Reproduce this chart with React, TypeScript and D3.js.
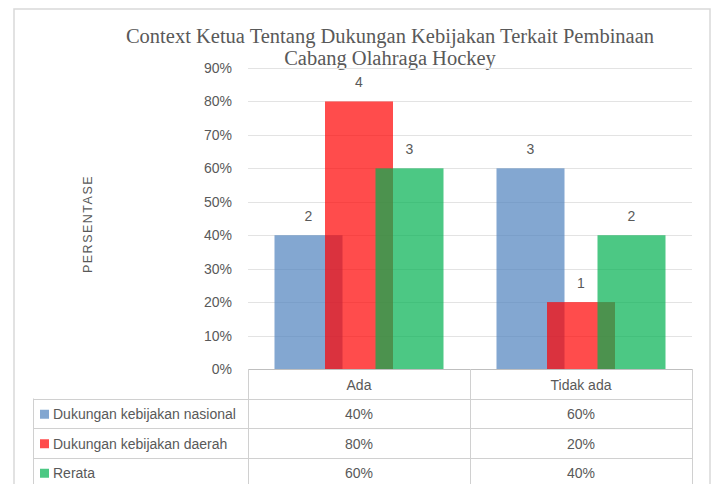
import React from "react";
import * as d3 from "d3";

const categories = ["Ada", "Tidak ada"];
const seriesNames = ["Dukungan kebijakan nasional", "Dukungan kebijakan daerah", "Rerata"];
const seriesColors = ["#4F81BD", "#FF0000", "#00B050"];
const valuesNasional = [0.4, 0.6];
const valuesDaerah = [0.8, 0.2];
const valuesRerata = [0.6, 0.4];
const countsNasional = [2, 3];
const countsDaerah = [4, 1];
const countsRerata = [3, 2];
const yTicks = [0, 0.1, 0.2, 0.3, 0.4, 0.5, 0.6, 0.7, 0.8, 0.9];
const titleLines = ["Context Ketua Tentang Dukungan Kebijakan Terkait Pembinaan", "Cabang Olahraga Hockey"];
const yTitle = "PERSENTASE";

const seriesValues = [valuesNasional, valuesDaerah, valuesRerata];
const seriesCounts = [countsNasional, countsDaerah, countsRerata];

export default function App() {
  const W = 713, H = 484;
  const left = 248, right = 692, top = 68, bottom = 369;
  const x = d3.scaleBand<string>().domain(categories).range([left, right]).padding(0);
  const y = d3.scaleLinear().domain([0, 0.9]).range([bottom, top]);
  const barW = 68;
  const step = 50.5;
  const font = "'Liberation Sans', Arial, sans-serif";
  const textColor = "#595959";
  const gridColor = "#E3E3E3";
  const tableColor = "#D0D0D0";
  const rowH = 29.5;
  const tableLeft = 33;
  const fmt = d3.format(".0%");

  return (
    <svg width={W} height={H} style={{ position: "absolute", left: 0, top: 0, background: "#fff" }}>
      <rect x={14} y={9} width={696} height={490} fill="#fff" stroke="#D9D9D9" strokeWidth={1.5} />
      {titleLines.map((t, i) => (
        <text key={i} x={390} y={43 + i * 22} textAnchor="middle" fontFamily="'Liberation Serif', 'DejaVu Serif', serif" fontSize={20.5} fill={textColor}>
          {t}
        </text>
      ))}
      {yTicks.map((t) => (
        <g key={t}>
          {t > 0 && <line x1={left} x2={right} y1={Math.round(y(t)) + 0.5} y2={Math.round(y(t)) + 0.5} stroke={gridColor} strokeWidth={1} />}
          <text x={232} y={y(t)} dy="0.36em" textAnchor="end" fontFamily={font} fontSize={14} fill={textColor}>
            {fmt(t)}
          </text>
        </g>
      ))}
      <text transform={`translate(92,${224}) rotate(-90)`} textAnchor="middle" fontFamily={font} fontSize={12.5} letterSpacing={1.5} fill={textColor}>
        {yTitle}
      </text>
      {seriesValues.map((vals, si) => (
        <g key={si}>
          {categories.map((c, ci) => {
            const cx = (x(c) as number) + x.bandwidth() / 2 + (si - 1) * step;
            const yy = y(vals[ci]);
            return (
              <g key={c}>
                <rect x={cx - barW / 2} y={yy} width={barW} height={bottom - yy} fill={seriesColors[si]} fillOpacity={0.7} />
              </g>
            );
          })}
        </g>
      ))}
      {seriesValues.map((vals, si) => (
        <g key={"l" + si}>
          {categories.map((c, ci) => {
            const cx = (x(c) as number) + x.bandwidth() / 2 + (si - 1) * step;
            const yy = y(vals[ci]);
            return (
              <text key={c} x={cx} y={yy - 19} dy="0.36em" textAnchor="middle" fontFamily={font} fontSize={14} fill={textColor}>
                {seriesCounts[si][ci]}
              </text>
            );
          })}
        </g>
      ))}
      {/* data table */}
      <line x1={left} x2={right} y1={bottom + 0.5} y2={bottom + 0.5} stroke="#BFBFBF" strokeWidth={1} />
      {[1, 2, 3, 4].map((r) => (
        <line key={r} x1={tableLeft} x2={right} y1={Math.round(bottom + r * rowH) + 0.5} y2={Math.round(bottom + r * rowH) + 0.5} stroke={tableColor} strokeWidth={1} />
      ))}
      <line x1={left + 0.5} x2={left + 0.5} y1={bottom} y2={H} stroke={tableColor} />
      <line x1={left + x.bandwidth() + 0.5} x2={left + x.bandwidth() + 0.5} y1={bottom} y2={H} stroke={tableColor} />
      <line x1={right + 0.5} x2={right + 0.5} y1={bottom} y2={H} stroke={tableColor} />
      <line x1={tableLeft + 0.5} x2={tableLeft + 0.5} y1={bottom + rowH} y2={H} stroke={tableColor} />
      {categories.map((c) => (
        <text key={c} x={(x(c) as number) + x.bandwidth() / 2} y={bottom + rowH / 2 + 1} dy="0.36em" textAnchor="middle" fontFamily={font} fontSize={14} fill={textColor}>
          {c}
        </text>
      ))}
      {seriesNames.map((n, si) => {
        const cy = bottom + rowH * (si + 1) + rowH / 2 + 1;
        return (
          <g key={n}>
            <rect x={40} y={cy - 4.5} width={9} height={9} fill={seriesColors[si]} fillOpacity={0.7} />
            <text x={53} y={cy} dy="0.36em" fontFamily={font} fontSize={14} fill={textColor}>
              {n}
            </text>
            {categories.map((c, ci) => (
              <text key={c} x={(x(c) as number) + x.bandwidth() / 2} y={cy} dy="0.36em" textAnchor="middle" fontFamily={font} fontSize={14} fill={textColor}>
                {fmt(seriesValues[si][ci])}
              </text>
            ))}
          </g>
        );
      })}
    </svg>
  );
}
